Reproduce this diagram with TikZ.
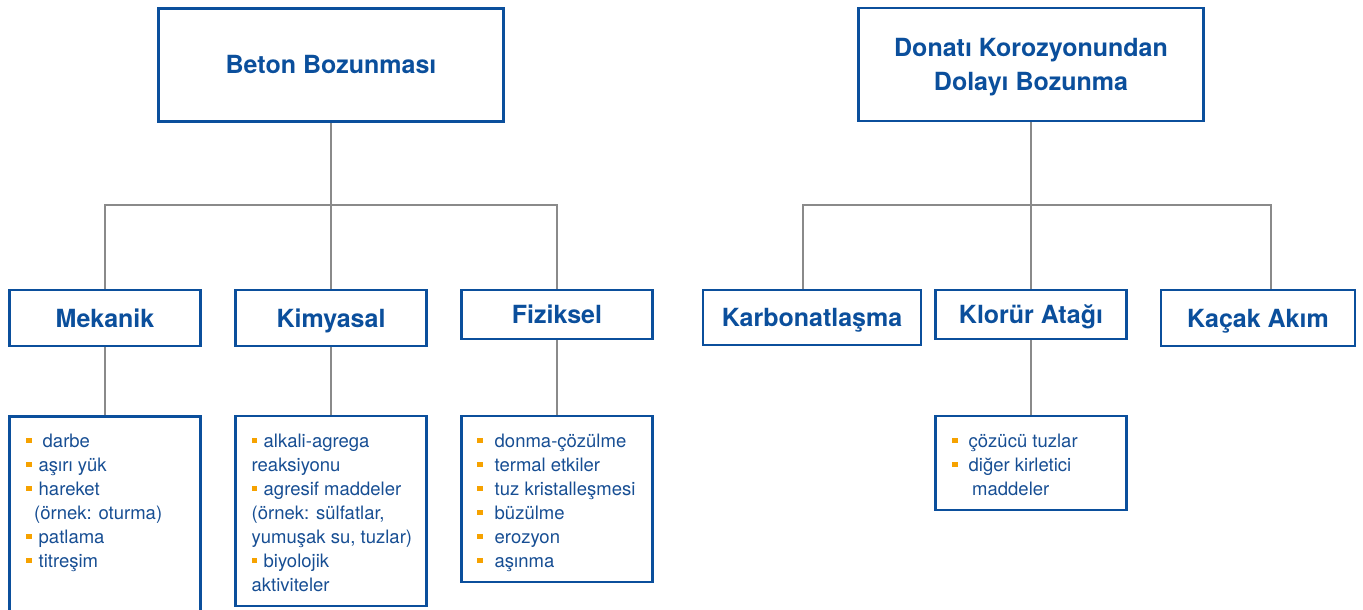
\documentclass[tikz,border=0pt]{standalone}
\usepackage{fontspec}
\setmainfont{TeX Gyre Heros}
\definecolor{boxblue}{HTML}{0B4F9C}
\definecolor{textblue}{HTML}{174E93}
\definecolor{bulorange}{HTML}{F6A200}
\definecolor{linegray}{HTML}{8A8A8A}
\newcommand{\blt}[1][7pt]{\strut{\color{bulorange}\rule[4pt]{5.5pt}{5.5pt}}\hspace{#1}}
\begin{document}
\begin{tikzpicture}[x=1pt,y=-1pt,
    box/.style = {draw=boxblue,line width=2.6pt,fill=white,text=boxblue,
        font=\fontsize{25}{34}\selectfont\bfseries,align=center,inner sep=0pt},
    head/.style = {box,minimum width=191pt,minimum height=56pt,text height=22pt,text depth=4pt},
    listbox/.style = {draw=boxblue,line width=2.6pt,inner sep=0pt,minimum width=191pt},
    items/.style = {text=textblue,font=\fontsize{18.5}{24}\selectfont,align=left,
        anchor=north west,inner sep=0pt},
    conn/.style = {draw=linegray,line width=1.3pt}]
    \useasboundingbox (0,0) rectangle (1363,610);

    % top boxes
    \node[box,minimum width=345pt,minimum height=113pt] (beton) at (331,65) {Beton Bozunması};
    \node[box,minimum width=345pt,minimum height=113pt] (donati) at (1031,64.5)
        {\rule{0pt}{24pt}Donatı Korozyonundan\\Dolayı Bozunma};

    % second row
    \node[head] (mek) at (105,318) {Mekanik};
    \node[head] (kim) at (331,318) {Kimyasal};
    \node[head,minimum height=49pt] (fiz) at (557,314.5) {Fiziksel};
    \node[head,minimum width=218pt,minimum height=55pt] (karb) at (812,317.5) {Karbonatlaşma};
    \node[head,minimum height=49pt] (klor) at (1031,314.5) {Klorür Atağı};
    \node[head,minimum width=194pt] (kacak) at (1258,318) {Kaçak Akım};

    % list boxes
    \node[listbox,minimum height=203pt] (mekL) at (105,518) {};
    \node[listbox,minimum height=190pt] (kimL) at (331,511) {};
    \node[listbox,minimum height=166pt] (fizL) at (557,499) {};
    \node[listbox,minimum height=94pt] (klorL) at (1031,463) {};

    \node[items] (mekT) at (26,430.2)
        {\blt[11pt]darbe\\ \blt aşırı yük\\ \blt hareket\\
         \hspace*{8pt}(örnek: oturma)\\ \blt patlama\\ \blt titreşim};
    \node[items] (kimT) at (251.5,430.2)
        {\blt[6.5pt]alkali-agrega\\ reaksiyonu\\ \blt[6.5pt]agresif maddeler\\
         (örnek: sülfatlar,\\ yumuşak su, tuzlar)\\ \blt[6.5pt]biyolojik\\ aktiviteler};
    \node[items] (fizT) at (477,430.2)
        {\blt[12pt]donma-çözülme\\ \blt[12pt]termal etkiler\\ \blt[12pt]tuz kristalleşmesi\\
         \blt[12pt]büzülme\\ \blt[12pt]erozyon\\ \blt[12pt]aşınma};
    \node[items] (klorT) at (952,430.2)
        {\blt[11pt]çözücü tuzlar\\ \blt[11pt]diğer kirletici\\ \hspace*{20pt}maddeler};

    % connectors
    \coordinate (lbar) at (331,205);
    \coordinate (rbar) at (1031,205);
    \coordinate (rleft) at (803,205);
    \coordinate (rright) at (1271,205);
    \draw[conn] (beton.south) -- (lbar);
    \draw[conn] (mek.north) |- (lbar) -| (fiz.north);
    \draw[conn] (lbar) -- (kim.north);
    \draw[conn] (donati.south) -- (rbar);
    \draw[conn] (rleft |- karb.north) -- (rleft) -- (rright) -- (rright |- kacak.north);
    \draw[conn] (rbar) -- (klor.north);
    \draw[conn] (mek.south) -- (mekL.north);
    \draw[conn] (kim.south) -- (kimL.north);
    \draw[conn] (fiz.south) -- (fizL.north);
    \draw[conn] (klor.south) -- (klorL.north);
\end{tikzpicture}
\end{document}
